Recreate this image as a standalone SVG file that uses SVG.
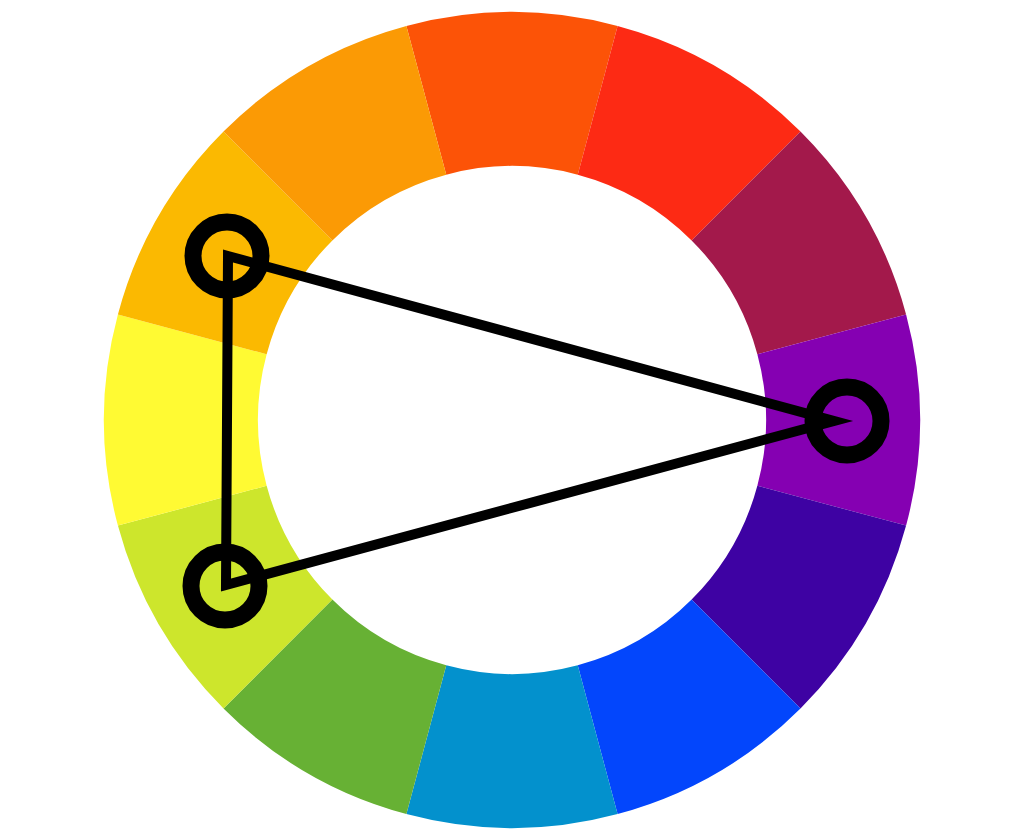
<svg xmlns="http://www.w3.org/2000/svg" width="1024" height="840" viewBox="0 0 1024 840">
<style>
.seg{stroke:none}
.ring{fill:none;stroke:#000;stroke-width:17}
.tri{fill:none;stroke:#000;stroke-width:10;stroke-linejoin:miter;stroke-miterlimit:10}
</style>
<rect width="1024" height="840" fill="#fff"/>
<g id="wheel">
<path class="seg" fill="#FC5307" d="M406.40,25.90 A408,408 0 0 1 617.60,25.90 L577.74,174.65 A254,254 0 0 0 446.26,174.65 Z"/>
<path class="seg" fill="#FD2A14" d="M617.60,25.90 A408,408 0 0 1 800.50,131.50 L691.61,240.39 A254,254 0 0 0 577.74,174.65 Z"/>
<path class="seg" fill="#A3194B" d="M800.50,131.50 A408,408 0 0 1 906.10,314.40 L757.35,354.26 A254,254 0 0 0 691.61,240.39 Z"/>
<path class="seg" fill="#8500B2" d="M906.10,314.40 A408,408 0 0 1 906.10,525.60 L757.35,485.74 A254,254 0 0 0 757.35,354.26 Z"/>
<path class="seg" fill="#3E02A3" d="M906.10,525.60 A408,408 0 0 1 800.50,708.50 L691.61,599.61 A254,254 0 0 0 757.35,485.74 Z"/>
<path class="seg" fill="#0346FC" d="M800.50,708.50 A408,408 0 0 1 617.60,814.10 L577.74,665.35 A254,254 0 0 0 691.61,599.61 Z"/>
<path class="seg" fill="#0391CD" d="M617.60,814.10 A408,408 0 0 1 406.40,814.10 L446.26,665.35 A254,254 0 0 0 577.74,665.35 Z"/>
<path class="seg" fill="#67B134" d="M406.40,814.10 A408,408 0 0 1 223.50,708.50 L332.39,599.61 A254,254 0 0 0 446.26,665.35 Z"/>
<path class="seg" fill="#CDE62C" d="M223.50,708.50 A408,408 0 0 1 117.90,525.60 L266.65,485.74 A254,254 0 0 0 332.39,599.61 Z"/>
<path class="seg" fill="#FFFA33" d="M117.90,525.60 A408,408 0 0 1 117.90,314.40 L266.65,354.26 A254,254 0 0 0 266.65,485.74 Z"/>
<path class="seg" fill="#FBB901" d="M117.90,314.40 A408,408 0 0 1 223.50,131.50 L332.39,240.39 A254,254 0 0 0 266.65,354.26 Z"/>
<path class="seg" fill="#FB9A05" d="M223.50,131.50 A408,408 0 0 1 406.40,25.90 L446.26,174.65 A254,254 0 0 0 332.39,240.39 Z"/>
</g>
<g id="connectors">
<polygon class="tri" points="228,256 834,421 226,585"/>
</g>
<g id="node-orange-yellow"><circle class="ring" cx="227" cy="256" r="34"/></g>
<g id="node-yellow-green"><circle class="ring" cx="225" cy="586" r="34"/></g>
<g id="node-purple"><circle class="ring" cx="847" cy="421" r="34"/></g>
</svg>
